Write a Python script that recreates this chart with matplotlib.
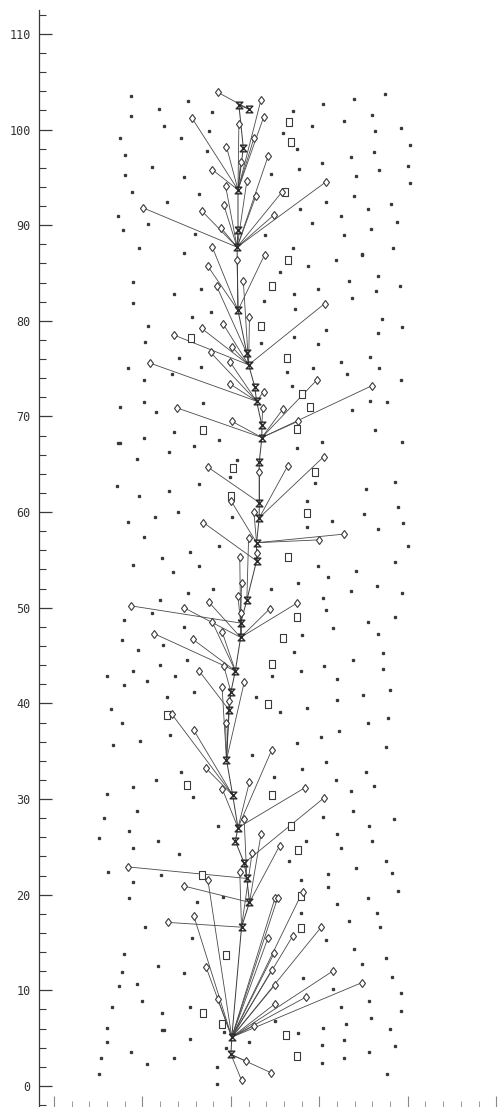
import matplotlib
matplotlib.use("Agg")
import matplotlib.pyplot as plt
import numpy as np
from matplotlib.path import Path
from matplotlib.ticker import MultipleLocator, NullFormatter

# ---- data ----
# trunk nodes, bottom to top
node_x = [20.0, 20.1, 21.2, 22.1, 21.8, 21.5, 20.5, 20.8, 20.2, 19.5, 19.8, 20.0,
          20.5, 21.1, 21.1, 21.8, 22.9, 22.9, 23.2, 23.2, 23.2, 23.5, 23.5, 22.9,
          22.7, 22.0, 21.8, 20.8, 20.7, 20.8, 20.8, 21.4, 20.9, 22.1]
node_y = [3.3, 5.1, 16.6, 19.2, 21.7, 23.3, 25.6, 27.0, 30.4, 34.1, 39.3, 41.2,
          43.4, 46.9, 48.4, 50.8, 54.9, 56.8, 59.4, 61.0, 65.2, 67.8, 69.1, 71.6,
          73.1, 75.4, 76.6, 81.1, 87.7, 89.5, 93.7, 98.1, 102.6, 102.1]

# leaves (diamonds) and the node each one hangs from
leaf_x = [21.7, 24.5, 21.2,
          17.2, 18.5, 24.9, 24.6, 25.0, 25.0, 31.5, 34.8, 28.5, 22.6, 24.2, 27.0,
          17.4, 15.8, 25.0, 25.3, 28.1, 30.2,
          22.4, 21.0, 12.9,
          23.4, 25.5, 14.7,
          21.5, 8.4,
          30.5,
          22.1, 19.0, 28.4, 24.6,
          17.2, 13.3, 15.8,
          19.0, 21.5, 19.8, 19.4,
          16.4,
          19.2,
          17.9, 19.0, 11.3, 15.7,
          14.7, 17.5, 24.4, 27.5, 21.1,
          8.7, 20.8, 21.0, 21.2,
          22.0,
          16.9, 22.9,
          20.0, 22.6, 30.0, 32.8,
          26.4, 30.5,
          17.4, 23.2,
          29.7, 25.9, 35.9, 27.6, 13.9, 20.1,
          23.6,
          17.7, 19.9, 10.8, 19.9, 23.7,
          21.4, 22.1, 19.1, 16.7, 13.6, 20.1, 30.6,
          18.4,
          20.7, 23.8, 17.4, 17.9,
          24.2, 21.8, 19.4, 22.8, 30.7, 25.8, 24.9, 19.2, 16.7, 10.1, 18.9,
          23.4, 23.7, 15.6, 20.9, 22.6, 19.5, 21.1, 17.9,
          18.5]
leaf_y = [2.6, 1.4, 0.6,
          12.4, 9.1, 13.9, 12.1, 10.6, 8.6, 12.0, 10.8, 9.3, 6.3, 15.5, 15.7,
          21.5, 17.8, 19.7, 19.7, 20.3, 16.6,
          24.4, 22.4, 17.1,
          26.3, 25.1, 20.9,
          27.9, 22.9,
          30.1,
          31.8, 31.1, 31.2, 35.1,
          33.2, 38.9, 37.2,
          41.7, 42.2, 40.2, 38.0,
          43.4,
          43.9,
          48.5, 47.5, 47.3, 46.7,
          50.0, 50.6, 49.9, 50.5, 49.4,
          50.2, 51.2, 55.3, 52.6,
          57.3,
          58.9, 55.7,
          61.2, 60.0, 57.1, 57.7,
          64.8, 65.8,
          64.7, 64.2,
          73.8, 70.8, 73.2, 69.5, 70.9, 69.5,
          70.9,
          76.7, 75.7, 75.6, 73.4, 72.6,
          84.2, 80.4, 79.7, 79.2, 78.5, 77.3, 81.8,
          83.6,
          86.4, 86.9, 85.7, 87.7,
          97.2, 94.6, 94.1, 93.0, 94.5, 93.5, 91.1, 92.1, 91.5, 91.8, 89.7,
          103.1, 101.3, 101.2, 100.6, 99.1, 98.2, 96.6, 95.8,
          103.9]
leaf_node = [0, 0, 0,
             1, 1, 1, 1, 1, 1, 1, 1, 1, 1, 1, 1,
             1, 1, 1, 1, 1, 1,
             2, 2, 2,
             3, 3, 3,
             4, 4,
             5,
             7, 7, 7, 7,
             8, 8, 8,
             9, 9, 9, 9,
             10,
             11,
             12, 12, 12, 12,
             13, 13, 13, 13, 13,
             14, 14, 14, 14,
             15,
             16, 16,
             17, 17, 17, 17,
             18, 18,
             19, 19,
             21, 21, 21, 21, 21, 21,
             22,
             23, 23, 23, 23, 23,
             25, 25, 25, 25, 25, 25, 25,
             26,
             27, 27, 27, 27,
             28, 28, 28, 28, 28, 28, 28, 28, 28, 28, 28,
             30, 30, 30, 30, 30, 30, 30, 30,
             33]

# open rectangles
rect_x = [26.6, 26.8, 26.1, 26.4, 24.6, 23.4, 15.5, 26.3, 28.0, 28.9, 16.8, 27.5,
          20.2, 29.5, 20.0, 28.6, 26.4, 27.5, 25.9, 24.6, 24.2, 12.8, 15.0, 24.7,
          26.8, 27.6, 16.7, 27.9, 27.9, 19.4, 16.9, 19.0, 26.2, 27.5]
rect_y = [100.8, 98.7, 93.5, 86.4, 83.6, 79.5, 78.2, 76.1, 72.3, 71.0, 68.6, 68.7,
          64.6, 64.2, 61.7, 59.9, 55.3, 49.0, 46.8, 44.1, 39.9, 38.8, 31.5, 30.4,
          27.2, 24.7, 22.1, 19.9, 16.5, 13.7, 7.6, 6.5, 5.3, 3.1]

# background dots
dot_x = [8.7, 11.9, 15.1, 17.9, 8.7, 12.4, 7.5, 14.4, 17.5, 8.0, 11.1, 8.0, 14.7, 17.3,
         8.8, 12.8, 16.4, 7.2, 7.8, 10.6, 15.9, 9.6, 14.7, 24.5, 27.0, 30.4, 29.2, 27.5,
         33.9, 37.4, 32.8, 36.0, 39.2, 36.3, 40.3, 33.6, 36.2, 40.0, 36.8, 34.1, 30.3,
         27.7, 40.3, 33.9, 30.7, 38.1, 27.8, 35.5, 32.4, 29.2, 38.8, 35.8, 32.8, 23.8,
         27.0, 38.3, 34.8, 25.9,
         8.9, 13.6, 16.6, 8.9, 15.6, 17.7, 10.6, 10.3, 14.1, 8.4, 13.3, 16.6, 10.2, 10.2,
         7.5, 11.5, 16.8, 25.6, 28.7, 31.9, 34.8, 23.7, 27.1, 27.3, 29.8, 33.4, 36.6,
         39.1, 33.7, 36.4, 23.4, 27.1, 29.9, 30.8, 37.1, 36.6, 39.4, 32.5, 35.7, 36.7,
         29.3, 26.3, 26.9, 33.1, 39.2, 33.7, 35.7, 37.7,
         7.2, 7.5, 10.2, 13.6, 15.8, 13.0, 9.4, 18.6, 20.7, 19.9, 16.4, 13.0, 9.6, 7.1,
         14.0, 11.4, 8.4, 20.1, 10.2, 18.6, 15.4, 12.2, 16.4, 13.4, 8.9, 15.1, 18.0,
         27.5, 30.3, 36.3, 39.3, 29.5, 28.6, 35.3, 38.5, 38.9, 35.1, 31.4, 28.6, 36.6,
         39.5, 40.0, 38.5, 34.2, 31.0, 29.9, 27.6, 24.5, 33.6, 36.5, 39.3,
         12.0, 7.9, 11.1, 14.7, 7.7, 12.3, 9.5, 15.0, 12.0, 8.9, 6.0, 13.7, 10.5, 7.9,
         15.8, 12.8, 6.4, 7.7, 13.1, 9.7, 6.7, 30.4, 30.8, 31.5, 35.5, 38.6, 36.6, 28.0,
         27.1, 30.5, 33.8, 37.2, 37.2, 27.9, 24.7, 32.0, 38.0, 34.9, 32.0, 22.8, 28.6,
         25.6, 37.8, 35.5, 32.2, 30.2, 27.5, 37.5, 22.4, 30.8,
         11.5, 8.9, 6.0, 14.4, 15.7, 9.4, 5.6, 8.5, 5.1, 11.8, 8.9, 14.1, 18.5, 6.1,
         12.1, 8.9, 8.5, 16.2, 19.1, 10.3, 24.9, 28.0, 31.9, 35.3, 36.2, 33.6, 33.8,
         30.4, 38.4, 35.6, 32.0, 28.5, 35.9, 32.5, 26.6, 37.5, 34.2, 31.0, 38.2, 27.9,
         31.0, 38.9, 35.5, 32.0, 27.9, 36.5, 33.4, 36.9,
         15.6, 7.9, 11.8, 14.7, 7.7, 9.4, 7.3, 9.9, 6.6, 12.2, 15.4, 6.0, 12.2, 12.4,
         15.4, 6.0, 8.7, 13.6, 10.5, 5.3, 5.1, 19.4, 18.4, 18.4, 19.2, 22.1, 28.1, 30.8,
         33.9, 37.5, 34.8, 38.2, 31.5, 39.2, 32.4, 35.6, 39.2, 35.8, 33.0, 30.4, 38.0,
         27.6, 32.8, 30.3, 38.6, 35.6, 32.8, 30.3, 37.6, 25.0]
dot_y = [103.5, 102.2, 103.0, 101.8, 101.4, 100.4, 99.1, 99.1, 99.8, 97.3, 96.1, 95.3,
         95.0, 97.8, 93.5, 92.4, 93.3, 91.0, 89.5, 90.1, 89.1, 87.6, 87.1, 95.4, 101.9,
         102.7, 100.4, 98.0, 103.2, 103.7, 100.9, 101.5, 100.2, 99.8, 98.4, 97.1, 97.7,
         96.2, 95.8, 95.1, 96.5, 95.9, 94.4, 93.1, 92.4, 92.2, 91.7, 91.7, 91.0, 90.2,
         90.3, 89.6, 89.0, 89.0, 87.6, 87.6, 87.0, 99.6,
         84.1, 82.8, 83.3, 81.9, 80.4, 80.9, 79.5, 77.8, 76.1, 75.1, 74.4, 75.2, 73.8,
         71.5, 71.0, 70.5, 71.4, 85.1, 85.7, 86.4, 86.9, 82.1, 82.8, 81.2, 83.3, 84.2,
         84.7, 83.6, 82.4, 83.1, 77.7, 78.3, 77.6, 79.0, 80.2, 78.7, 79.4, 75.7, 76.2,
         75.1, 75.1, 74.7, 73.2, 74.4, 73.8, 70.7, 71.6, 71.5,
         67.2, 67.2, 67.8, 68.4, 66.9, 66.3, 65.6, 67.5, 65.5, 63.7, 62.9, 62.2, 61.7,
         62.7, 60.0, 59.5, 59.0, 59.5, 57.4, 56.5, 55.8, 55.2, 54.4, 53.7, 54.5, 51.5,
         52.0, 66.7, 67.3, 68.6, 67.3, 63.0, 61.2, 62.4, 63.2, 60.5, 59.8, 59.1, 58.4,
         58.2, 58.9, 56.5, 54.8, 53.8, 53.2, 54.4, 52.6, 52.0, 51.8, 52.3, 51.5,
         50.8, 48.7, 49.4, 48.0, 46.6, 46.1, 45.6, 44.5, 44.0, 43.4, 42.9, 42.9, 42.3,
         41.9, 41.2, 40.7, 39.4, 37.9, 36.7, 36.1, 35.6, 51.0, 49.8, 47.9, 48.5, 49.0,
         47.3, 47.1, 45.4, 43.9, 44.5, 45.3, 43.6, 43.4, 42.9, 42.5, 41.4, 40.9, 40.4,
         40.7, 39.5, 39.1, 38.5, 37.9, 37.1, 36.5, 35.9, 35.4, 34.6, 33.9,
         32.0, 31.3, 30.5, 32.8, 30.2, 28.8, 28.0, 26.7, 25.9, 25.6, 24.9, 24.3, 27.2,
         22.4, 22.1, 21.3, 19.7, 19.2, 19.8, 16.6, 32.3, 33.1, 32.0, 32.8, 31.4, 30.8,
         28.8, 28.1, 27.9, 27.2, 26.3, 25.6, 25.6, 24.9, 23.5, 23.5, 22.8, 22.2, 22.3,
         21.5, 20.8, 20.4, 19.7, 19.0, 18.1, 18.1, 17.3, 16.6,
         15.5, 13.8, 12.5, 11.8, 11.9, 10.7, 10.4, 8.9, 8.3, 7.6, 8.3, 6.1, 5.9, 5.9,
         4.9, 4.6, 3.6, 2.9, 2.3, 2.9, 1.2, 4.0, 2.0, 0.2, 5.6, 4.6, 11.3, 15.3, 14.3,
         13.4, 12.8, 11.4, 10.1, 9.7, 8.3, 8.9, 7.8, 7.1, 6.5, 6.1, 6.0, 5.5, 4.8, 4.3,
         4.2, 3.5, 2.9, 2.4, 1.2, 6.8]

# ---- figure ----
ink = "#3a3a3a"
fig = plt.figure(figsize=(4.98, 11.07), dpi=100)
ax = fig.add_axes([39 / 498, 0.0, 1 - 39 / 498, 1097 / 1107])

# leaf branches
for lx, ly, n in zip(leaf_x, leaf_y, leaf_node):
    ax.plot([node_x[n], lx], [node_y[n], ly], color="#4a4a4a", lw=0.6, zorder=2)
# trunk
ax.plot(node_x, node_y, color=ink, lw=0.7, zorder=2)

hourglass = Path([(-1, 1), (1, 1), (-1, -1), (1, -1), (-1, 1)],
                 [Path.MOVETO, Path.LINETO, Path.LINETO, Path.LINETO, Path.LINETO])
rect = Path([(-0.6, -1), (0.6, -1), (0.6, 1), (-0.6, 1), (-0.6, -1)],
            [Path.MOVETO, Path.LINETO, Path.LINETO, Path.LINETO, Path.CLOSEPOLY])

ax.plot(dot_x, dot_y, ls="none", marker="s", ms=1.4, color=ink, mec=ink, zorder=3)
ax.plot(rect_x, rect_y, ls="none", marker=rect, ms=6.2, mfc="white", mec=ink,
        mew=0.8, zorder=3)
ax.plot(leaf_x, leaf_y, ls="none", marker="d", ms=4.5, mfc="white", mec=ink,
        mew=0.8, zorder=4)
ax.plot(node_x, node_y, ls="none", marker=hourglass, ms=4.8, mfc="none", mec="#2a2a2a",
        mew=1.0, zorder=5)

ax.set_xlim(-1.7, 50.2)
ax.set_ylim(-2.2, 112.5)

ax.yaxis.set_major_locator(MultipleLocator(10))
ax.yaxis.set_minor_locator(MultipleLocator(2))
ax.xaxis.set_major_locator(MultipleLocator(10))
ax.xaxis.set_minor_locator(MultipleLocator(2))
ax.xaxis.set_major_formatter(NullFormatter())

ax.tick_params(axis="y", which="major", direction="in", length=9, width=0.9,
               color=ink, labelsize=8.5, labelcolor="#333333", pad=6)
ax.tick_params(axis="y", which="minor", direction="in", length=5, width=0.8, color=ink)
ax.tick_params(axis="x", which="major", direction="in", length=8, width=0.8, color="#888888")
ax.tick_params(axis="x", which="minor", direction="in", length=4, width=0.7, color="#999999")
for lab in ax.get_yticklabels():
    lab.set_family("DejaVu Sans Mono")

for s in ["top", "right", "bottom"]:
    ax.spines[s].set_visible(False)
ax.spines["left"].set_color(ink)
ax.spines["left"].set_linewidth(0.9)

fig.savefig("out.png", dpi=100)
